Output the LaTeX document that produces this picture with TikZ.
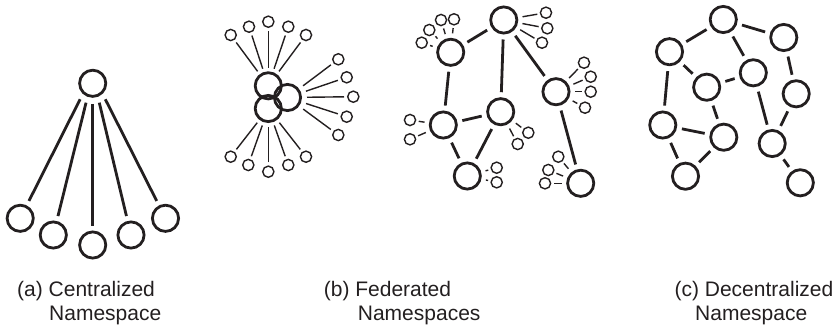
\documentclass[tikz,border=0pt]{standalone}
\usepackage{fontspec}
\setmainfont{Liberation Sans}
\definecolor{ink}{HTML}{231F20}
\begin{document}
\begin{tikzpicture}[x=1pt,y=-1pt,
  big/.style={circle,draw=ink,line width=2.8pt,minimum size=26.2pt,inner sep=0pt},
  sm/.style={circle,draw=ink,line width=1.4pt,minimum size=11.2pt,inner sep=0pt},
  tedge/.style={draw=ink,line width=2.8pt,shorten <=5pt,shorten >=5pt},
  fedge/.style={draw=ink,line width=1.4pt,shorten <=3pt,shorten >=3.5pt},
  sedge/.style={draw=ink,line width=1.4pt,shorten <=4.5pt,shorten >=2.5pt},
  lab/.style={anchor=base west,inner sep=0pt,text=ink,font=\fontsize{21}{24}\selectfont}]
\useasboundingbox (0,0) rectangle (835,327);

% ---------- (a) centralized ----------
\node[big] (A0) at (92.7,83.3) {};
\node[big] (A1) at (20.2,218.3) {};
\node[big] (A2) at (53.3,235) {};
\node[big] (A3) at (92.7,245) {};
\node[big] (A4) at (131,235) {};
\node[big] (A5) at (165.5,218.3) {};
\draw[tedge,shorten <=6pt] (A0.227) -- (A1);
\draw[tedge,shorten <=6pt] (A0.249) -- (A2);
\draw[tedge,shorten <=6pt] (A0.270) -- (A3);
\draw[tedge,shorten <=6pt] (A0.291) -- (A4);
\draw[tedge,shorten <=6pt] (A0.313) -- (A5);

% ---------- (b) federated: overlapping cluster ----------
\node[big] (B1) at (268.3,85.8) {};
\node[big] (B2) at (287.5,97.5) {};
\node[big] (B3) at (268.3,108.5) {};
\node[sm] (t1) at (230.7,35) {};
\node[sm] (t2) at (249,26.7) {};
\node[sm] (t3) at (268.3,21.7) {};
\node[sm] (t4) at (288.3,26.7) {};
\node[sm] (t5) at (306,35) {};
\node[sm] (r1) at (338.3,59.3) {};
\node[sm] (r2) at (346.7,77.3) {};
\node[sm] (r3) at (353.3,96.7) {};
\node[sm] (r4) at (346.7,116.7) {};
\node[sm] (r5) at (338.3,135) {};
\node[sm] (u1) at (230.7,156.7) {};
\node[sm] (u2) at (248.3,165) {};
\node[sm] (u3) at (268.3,171.7) {};
\node[sm] (u4) at (288.3,165) {};
\node[sm] (u5) at (306,156.7) {};
\foreach \s in {t1,t2,t3,t4,t5} \draw[fedge] (\s) -- (B1);
\foreach \s in {r1,r2,r3,r4,r5} \draw[fedge,shorten >=5pt] (\s) -- (B2);
\foreach \s in {u1,u2,u3,u4,u5} \draw[fedge] (\s) -- (B3);

% ---------- (b) federated: network ----------
\node[big] (F1) at (503.8,20) {};
\node[big] (F2) at (450.7,52.3) {};
\node[big] (F3) at (556,91.7) {};
\node[big] (F4) at (443.3,125) {};
\node[big] (F5) at (500.7,111.7) {};
\node[big] (F6) at (467.3,176) {};
\node[big] (F7) at (580.7,183.3) {};
\draw[tedge] (F1) -- (F2);
\draw[tedge] (F1) -- (F5);
\draw[tedge] (F1) -- (F3);
\draw[tedge] (F2) -- (F4);
\draw[tedge] (F4) -- (F5);
\draw[tedge] (F4) -- (F6);
\draw[tedge] (F5) -- (F6);
\draw[tedge] (F3) -- (F7);

\node[sm] (f1a) at (546,12.7) {};
\node[sm] (f1b) at (547.3,28.3) {};
\node[sm] (f1c) at (542,42.7) {};
\node[sm] (f2a) at (421.7,42.7) {};
\node[sm] (f2b) at (429.3,30) {};
\node[sm] (f2c) at (441,20) {};
\node[sm] (f2d) at (454,19.3) {};
\node[sm] (f3a) at (584,62.7) {};
\node[sm] (f3b) at (590.7,76.7) {};
\node[sm] (f3c) at (590.7,91.7) {};
\node[sm] (f3d) at (585,107.7) {};
\node[sm] (f4a) at (410,120) {};
\node[sm] (f4b) at (410,139.3) {};
\node[sm] (f5a) at (528.3,132.7) {};
\node[sm] (f5b) at (517.7,144) {};
\node[sm] (f6a) at (496.7,167.7) {};
\node[sm] (f6b) at (496.7,182.3) {};
\node[sm] (f7a) at (558.3,156.7) {};
\node[sm] (f7b) at (548.3,170) {};
\node[sm] (f7c) at (545,183.3) {};
\foreach \s in {f1a,f1b,f1c} \draw[sedge] (F1) -- (\s);
\foreach \s in {f2a,f2b,f2c,f2d} \draw[sedge] (F2) -- (\s);
\foreach \s in {f3a,f3b,f3c,f3d} \draw[sedge] (F3) -- (\s);
\foreach \s in {f4a,f4b} \draw[sedge] (F4) -- (\s);
\foreach \s in {f5a,f5b} \draw[sedge] (F5) -- (\s);
\foreach \s in {f6a,f6b} \draw[sedge] (F6) -- (\s);
\foreach \s in {f7a,f7b,f7c} \draw[sedge] (F7) -- (\s);

% ---------- (c) decentralized ----------
\node[big] (D1) at (723.3,19.5) {};
\node[big] (D2) at (783.8,37.5) {};
\node[big] (D3) at (669.5,51.7) {};
\node[big] (D4) at (753.3,72.8) {};
\node[big] (D5) at (706.7,87.2) {};
\node[big] (D6) at (796.2,93.8) {};
\node[big] (D7) at (662.8,125) {};
\node[big] (D8) at (723.8,137.2) {};
\node[big] (D9) at (772.2,143.5) {};
\node[big] (D10) at (685.5,176.2) {};
\node[big] (D11) at (800.3,182.8) {};
\draw[tedge] (D1) -- (D3);
\draw[tedge] (D1) -- (D2);
\draw[tedge] (D1) -- (D4);
\draw[tedge] (D3) -- (D5);
\draw[tedge] (D3) -- (D7);
\draw[tedge] (D4) -- (D5);
\draw[tedge] (D2) -- (D6);
\draw[tedge] (D5) -- (D8);
\draw[tedge] (D7) -- (D8);
\draw[tedge] (D7) -- (D10);
\draw[tedge] (D8) -- (D10);
\draw[tedge] (D4) -- (D9);
\draw[tedge] (D6) -- (D9);
\draw[tedge] (D9) -- (D11);

% ---------- labels ----------
\node[lab] (la1) at (17,296) {(a) Centralized};
\node[lab] (la2) at (49,320) {Namespace};
\node[lab] (lb1) at (323.7,296) {(b) Federated};
\node[lab] (lb2) at (357.7,320) {Namespaces};
\node[lab] (lc1) at (674.4,296) {(c) Decentralized};
\node[lab] (lc2) at (695,320) {Namespace};
\end{tikzpicture}
\end{document}
